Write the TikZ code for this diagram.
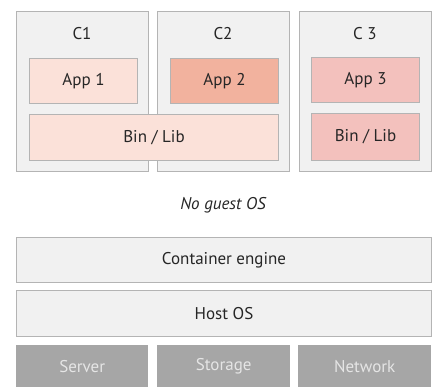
\documentclass[tikz,border=0pt]{standalone}
\usepackage{fontspec}
\setmainfont{PT Sans}
\definecolor{frame}{HTML}{B4B4B4}
\definecolor{shell}{HTML}{F1F1F1}
\definecolor{pale}{HTML}{FBE1D9}
\definecolor{salmon}{HTML}{F2B29E}
\definecolor{rose}{HTML}{F3C1BD}
\definecolor{hw}{HTML}{A6A6A6}
\definecolor{ink}{HTML}{262626}
\tikzset{
  txt/.style={text=ink,font=\fontsize{17}{19}\selectfont},
  box/.style={txt,draw=frame,line width=1pt,inner sep=0pt,anchor=north west},
  cbox/.style={box,fill=shell,minimum width=132pt,minimum height=160pt},
  appbox/.style={box,minimum width=108pt,minimum height=45pt},
  layer/.style={box,fill=shell,minimum width=415pt,minimum height=45pt},
  hwbox/.style={txt,inner sep=0pt,anchor=north west,fill=hw,text=white!90!black,minimum width=132pt,minimum height=42pt}
}
\begin{document}
\begin{tikzpicture}[x=1pt,y=-1pt]
\useasboundingbox (0,0) rectangle (439,387);
% containers
\node[cbox] (c1) at (16,11) {};
\node[cbox] (c2) at (157,11) {};
\node[cbox] (c3) at (299,11) {};
\node[txt] (c1lab) at (82,34) {C1};
\node[txt] (c2lab) at (223,34) {C2};
\node[txt] (c3lab) at (365,34) {C 3};
% apps and libraries
\node[appbox,fill=pale] (app1) at (29,58) {App 1};
\node[appbox,fill=salmon] (app2) at (170,58) {App 2};
\node[appbox,fill=rose] (app3) at (311,57) {App 3};
\node[appbox,fill=pale,minimum width=249pt,minimum height=46pt] (lib12) at (29,114) {Bin / Lib};
\node[appbox,fill=rose,minimum height=47pt] (lib3) at (311,113) {Bin / Lib};
\node[txt,font=\itshape\fontsize{17}{19}\selectfont] (noguest) at (223,205) {No guest OS};
% layers
\node[layer] (engine) at (16,237) {Container engine};
\node[layer,minimum height=46pt] (host) at (16,290) {Host OS};
\node[hwbox] (server) at (16,345) {Server};
\node[hwbox,minimum width=133pt] (storage) at (157,345) {Storage};
\node[hwbox,minimum width=133pt] (network) at (298,345) {Network};
\end{tikzpicture}
\end{document}
